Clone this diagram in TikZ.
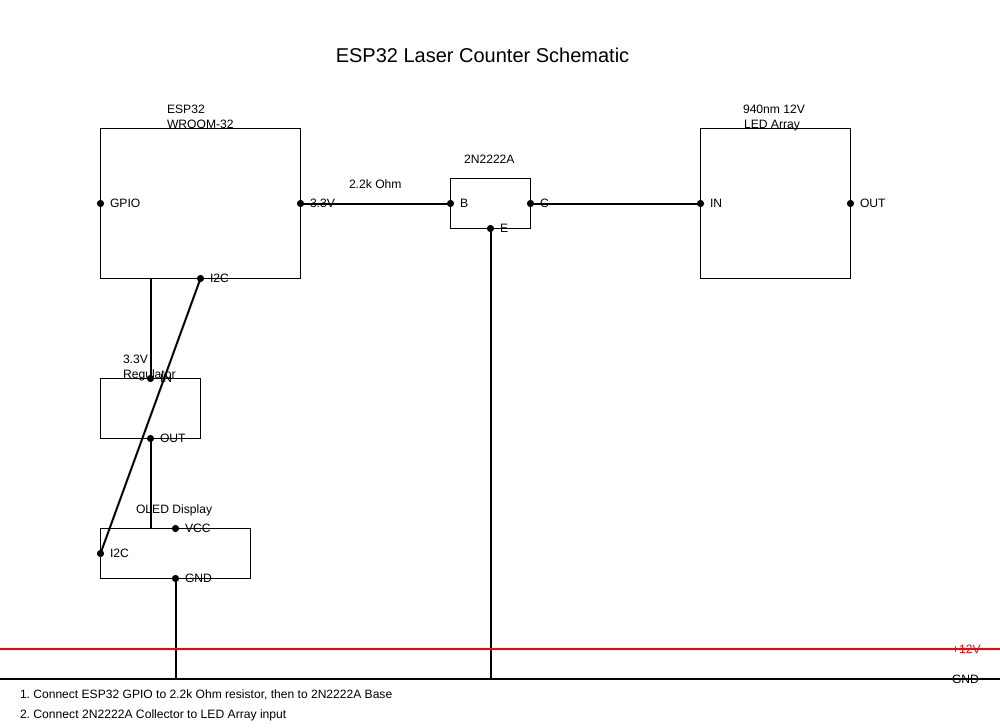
\documentclass[tikz,border=0pt]{standalone}
\usepackage{fontspec}
\setmainfont{Liberation Sans}
\begin{document}
\frenchspacing
\begin{tikzpicture}[x=0.75pt,y=-0.75pt,
  box/.style={draw=black,line width=0.75pt,fill=none,inner sep=0pt,outer sep=0pt},
  pin/.style={circle,fill=black,inner sep=0pt,outer sep=0pt,minimum size=5.4pt},
  wire/.style={draw=black,line width=1.5pt},
  txt/.style={anchor=base west,inner sep=0pt,outer sep=0pt,font=\fontsize{9.1}{11}\selectfont\frenchspacing,text=black}]
\useasboundingbox (0,0) rectangle (1000,728);
\fill[white] (0,0) rectangle (1000,728);
\node[anchor=base,inner sep=0pt,font=\fontsize{15}{18}\selectfont,text=black] (title) at (482.5,62.5) {ESP32 Laser Counter Schematic};
% boxes
\node[box,anchor=north west,minimum width=150pt,minimum height=112.5pt] (esp) at (100.5,128.5) {};
\node[box,anchor=north west,minimum width=60pt,minimum height=37.5pt] (tr) at (450.5,178.5) {};
\node[box,anchor=north west,minimum width=112.5pt,minimum height=112.5pt] (led) at (700.5,128.5) {};
\node[box,anchor=north west,minimum width=75pt,minimum height=45pt] (reg) at (100.5,378.5) {};
\node[box,anchor=north west,minimum width=112.5pt,minimum height=37.5pt] (oled) at (100.5,528.5) {};
% rail and free end coordinates
\coordinate (railAL) at (0,649);
\coordinate (railAR) at (1000,649);
\coordinate (railBL) at (0,679);
\coordinate (railBR) at (1000,679);
\coordinate (gndE) at (490.5,679);
\coordinate (gndO) at (175.5,679);
\coordinate (espV) at (151,278.5);
\coordinate (oledV) at (151,528.5);
% pins
\node[pin] (pGpio) at (100.5,203.5) {};
\node[pin] (p33) at (300.5,203.5) {};
\node[pin] (pI2c) at (200.5,278.5) {};
\node[pin] (pB) at (450.5,203.5) {};
\node[pin] (pC) at (530.5,203.5) {};
\node[pin] (pE) at (490.5,228.5) {};
\node[pin] (pIn) at (700.5,203.5) {};
\node[pin] (pOut) at (850.5,203.5) {};
\node[pin] (pRin) at (150.5,378.5) {};
\node[pin] (pRout) at (150.5,438.5) {};
\node[pin] (pVcc) at (175.5,528.5) {};
\node[pin] (pOi) at (100.5,553.5) {};
\node[pin] (pGnd) at (175.5,578.5) {};
% wires
\draw[wire] (p33.center) -- (pB.center);
\draw[wire] (pC.center) -- (pIn.center);
\draw[wire] (pE.center) -- (gndE);
\draw[wire] (espV) -- (espV |- pRin);
\draw[wire] (oledV |- pRout) -- (oledV);
\draw[wire] (pI2c.center) -- (pOi.center);
\draw[wire] (pGnd.center) -- (gndO);
\draw[line width=1.5pt,draw=red] (railAL) -- (railAR);
\draw[line width=1.5pt,draw=black] (railBL) -- (railBR);
% labels
\node[txt] (l1) at (167,113) {ESP32};
\node[txt] (l2) at (167,128) {WROOM-32};
\node[txt] (l3) at (110,207) {GPIO};
\node[txt] (l4) at (310,207) {3.3V};
\node[txt] (l5) at (210,282) {I2C};
\node[txt] (l6) at (349,188) {2.2k Ohm};
\node[txt] (l7) at (464,163) {2N2222A};
\node[txt] (l8) at (460,207) {B};
\node[txt] (l9) at (540,207) {C};
\node[txt] (l10) at (500,232) {E};
\node[txt] (l11) at (743,113) {940nm 12V};
\node[txt] (l12) at (744,128) {LED Array};
\node[txt] (l13) at (710,207) {IN};
\node[txt] (l14) at (860,207) {OUT};
\node[txt] (l15) at (123,363) {3.3V};
\node[txt] (l16) at (123,378) {Regulator};
\node[txt] (l17) at (160,382) {IN};
\node[txt] (l18) at (160,442) {OUT};
\node[txt] (l19) at (136,513) {OLED Display};
\node[txt] (l20) at (185,532) {VCC};
\node[txt] (l21) at (110,557) {I2C};
\node[txt] (l22) at (185,582) {GND};
\node[txt,text=red] (l23) at (952,653) {+12V};
\node[txt] (l24) at (952,683) {GND};
\node[txt,font=\fontsize{9.05}{11}\selectfont\frenchspacing] (l25) at (20,698) {1. Connect ESP32 GPIO to 2.2k Ohm resistor, then to 2N2222A Base};
\node[txt] (l26) at (20,718) {2. Connect 2N2222A Collector to LED Array input};
\end{tikzpicture}
\end{document}
